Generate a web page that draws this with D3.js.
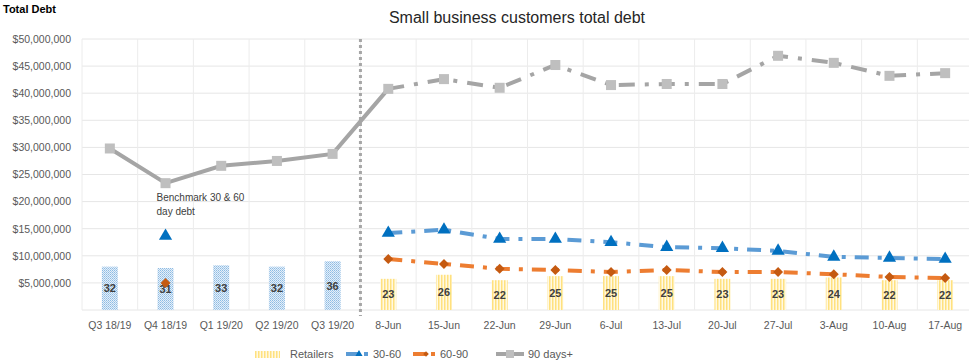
<!DOCTYPE html>
<html>
<head>
<meta charset="utf-8">
<script src="https://cdn.jsdelivr.net/npm/d3@7"></script>
<style>
  body { margin: 0; background: #fff; }
  text { font-family: "Liberation Sans", Arial, sans-serif; }
</style>
</head>
<body>
<svg id="chart" width="969" height="364"></svg>
<script>
// ---- data ----
const categories = ["Q3 18/19", "Q4 18/19", "Q1 19/20", "Q2 19/20", "Q3 19/20",
    "8-Jun", "15-Jun", "22-Jun", "29-Jun", "6-Jul", "13-Jul", "20-Jul", "27-Jul", "3-Aug", "10-Aug", "17-Aug"];
const retailers = [32, 31, 33, 32, 36, 23, 26, 22, 25, 25, 25, 23, 23, 24, 22, 22];
const debt30to60 = [null, 13650000, null, null, null, 14200000, 14800000, 13100000, 13100000, 12500000,
    11600000, 11400000, 10900000, 9800000, 9600000, 9400000];
const debt60to90 = [null, 5000000, null, null, null, 9400000, 8500000, 7600000, 7400000, 7000000,
    7400000, 7000000, 7000000, 6600000, 6100000, 5900000];
const debt90plus = [29800000, 23400000, 26600000, 27500000, 28800000, 40800000, 42600000, 41000000,
    45200000, 41500000, 41700000, 41700000, 46900000, 45600000, 43200000, 43700000];
const yTicks = d3.range(5000000, 50000001, 5000000);
const quarterCount = 5;

const margin = { top: 39, left: 82 };
const plotW = 891, plotH = 271;

const svg = d3.select("#chart");
const defs = svg.append("defs");

// bar fill patterns
const pBlue = defs.append("pattern").attr("id", "dotBlue")
    .attr("width", 2).attr("height", 2).attr("patternUnits", "userSpaceOnUse");
pBlue.append("rect").attr("width", 2).attr("height", 2).attr("fill", "#e4eff9");
pBlue.append("rect").attr("width", 1).attr("height", 1).attr("fill", "#8dbbe3");
pBlue.append("rect").attr("x", 1).attr("y", 1).attr("width", 1).attr("height", 1).attr("fill", "#a9cbea");

const pYellow = defs.append("pattern").attr("id", "lineYellow")
    .attr("width", 3).attr("height", 2).attr("patternUnits", "userSpaceOnUse");
pYellow.append("rect").attr("width", 3).attr("height", 2).attr("fill", "#fff9e3");
pYellow.append("rect").attr("width", 1.5).attr("height", 2).attr("fill", "#ffe17f");

const x = d3.scaleBand().domain(categories).range([margin.left, margin.left + plotW]).padding(0);
const y = d3.scaleLinear().domain([0, 50000000]).range([margin.top + plotH, margin.top]);
const y2 = d3.scaleLinear().domain([0, 200]).range([margin.top + plotH, margin.top]);
const cx = d => x(d) + x.bandwidth() / 2;

// gridlines
const grid = svg.append("g");
grid.selectAll("line.h").data([0, ...yTicks]).join("line")
    .attr("x1", margin.left).attr("x2", margin.left + plotW)
    .attr("y1", d => y(d)).attr("y2", d => y(d))
    .attr("stroke", "#e6e6e6").attr("stroke-width", 1);
grid.selectAll("line.v").data(d3.range(categories.length + 1)).join("line")
    .attr("x1", i => margin.left + i * x.bandwidth()).attr("x2", i => margin.left + i * x.bandwidth())
    .attr("y1", margin.top).attr("y2", margin.top + plotH)
    .attr("stroke", "#ececec").attr("stroke-width", 1);

// y axis
const yAxis = svg.append("g")
    .attr("transform", `translate(${margin.left - 8},0)`)
    .call(d3.axisLeft(y).tickValues(yTicks).tickSize(0).tickFormat(d3.format("$,.0f")));
yAxis.select(".domain").remove();
yAxis.selectAll("text").attr("fill", "#595959").style("font-size", "10.5px");

// x axis
const xAxis = svg.append("g")
    .attr("transform", `translate(0,${margin.top + plotH + 9})`)
    .call(d3.axisBottom(x).tickSize(0));
xAxis.select(".domain").remove();
xAxis.selectAll("text").attr("fill", "#595959").style("font-size", "10.5px");

// bars (secondary scale)
const barW = 16;
svg.append("g").selectAll("rect").data(retailers).join("rect")
    .attr("x", (d, i) => cx(categories[i]) - barW / 2)
    .attr("y", d => y2(d))
    .attr("width", barW)
    .attr("height", d => y2(0) - y2(d))
    .attr("fill", (d, i) => i < quarterCount ? "url(#dotBlue)" : "url(#lineYellow)");

svg.append("g").selectAll("text").data(retailers).join("text")
    .attr("x", (d, i) => cx(categories[i]))
    .attr("y", d => (y2(d) + y2(0)) / 2 + 4)
    .attr("text-anchor", "middle")
    .attr("font-weight", "bold")
    .attr("fill", "#404040")
    .style("font-size", "11px")
    .text(d => d);

// separator
const sepX = margin.left + quarterCount * x.bandwidth();
svg.append("line")
    .attr("x1", sepX).attr("x2", sepX)
    .attr("y1", margin.top).attr("y2", margin.top + plotH + 6)
    .attr("stroke", "#a6a6a6").attr("stroke-width", 3).attr("stroke-dasharray", "3,3");

// lines
const pts = arr => arr.map((v, i) => ({ c: categories[i], v: v, i: i })).filter(p => p.v != null);
const line = d3.line().x(p => cx(p.c)).y(p => y(p.v));

const p90 = pts(debt90plus);
svg.append("path").datum(p90.filter(p => p.i <= quarterCount))
    .attr("d", line).attr("fill", "none").attr("stroke", "#a5a5a5").attr("stroke-width", 4);
svg.append("path").datum(p90.filter(p => p.i >= quarterCount))
    .attr("d", line).attr("fill", "none").attr("stroke", "#a5a5a5").attr("stroke-width", 4)
    .attr("stroke-dasharray", "16,10,4,10");

const p3060 = pts(debt30to60).filter(p => p.i >= quarterCount);
svg.append("path").datum(p3060)
    .attr("d", line).attr("fill", "none").attr("stroke", "#5b9bd5").attr("stroke-width", 4)
    .attr("stroke-dasharray", "14,9,4,9");
const p6090 = pts(debt60to90).filter(p => p.i >= quarterCount);
svg.append("path").datum(p6090)
    .attr("d", line).attr("fill", "none").attr("stroke", "#ed7d31").attr("stroke-width", 4)
    .attr("stroke-dasharray", "14,9,4,9");

// markers
svg.append("g").selectAll("rect").data(p90).join("rect")
    .attr("x", p => cx(p.c) - 5).attr("y", p => y(p.v) - 5)
    .attr("width", 10).attr("height", 10).attr("fill", "#bfbfbf");
svg.append("g").selectAll("path").data(pts(debt30to60)).join("path")
    .attr("transform", p => `translate(${cx(p.c)},${y(p.v)})`)
    .attr("d", d3.symbol(d3.symbolTriangle, 75))
    .attr("fill", "#0070c0");
svg.append("g").selectAll("path").data(pts(debt60to90)).join("path")
    .attr("transform", p => `translate(${cx(p.c)},${y(p.v)}) rotate(45)`)
    .attr("d", d3.symbol(d3.symbolSquare, 50))
    .attr("fill", "#c55a11");

// annotation
const note = svg.append("text").attr("fill", "#404040").style("font-size", "10px")
    .attr("x", cx(categories[1]) - 9).attr("y", 201);
note.append("tspan").text("Benchmark 30 & 60");
note.append("tspan").attr("x", cx(categories[1]) - 9).attr("dy", 14).text("day debt");

// titles
svg.append("text").attr("x", 3).attr("y", 13)
    .attr("font-weight", "bold").attr("fill", "#000").style("font-size", "11px").text("Total Debt");
svg.append("text").attr("x", 517).attr("y", 23).attr("text-anchor", "middle")
    .attr("fill", "#262626").style("font-size", "16px").text("Small business customers total debt");

// legend
const lg = svg.append("g").attr("transform", "translate(0,354)");
lg.append("rect").attr("x", 255).attr("y", -3).attr("width", 25).attr("height", 7).attr("fill", "url(#lineYellow)");
lg.append("text").attr("x", 290).attr("y", 4).attr("fill", "#595959").style("font-size", "11px").text("Retailers");

lg.append("line").attr("x1", 346).attr("x2", 358).attr("y1", 0).attr("y2", 0).attr("stroke", "#5b9bd5").attr("stroke-width", 4);
lg.append("path").attr("transform", "translate(359,0)").attr("d", d3.symbol(d3.symbolTriangle, 22)).attr("fill", "#0070c0");
lg.append("rect").attr("x", 364).attr("y", -2).attr("width", 4).attr("height", 4).attr("fill", "#5b9bd5");
lg.append("text").attr("x", 373).attr("y", 4).attr("fill", "#595959").style("font-size", "11px").text("30-60");

lg.append("line").attr("x1", 413).attr("x2", 425).attr("y1", 0).attr("y2", 0).attr("stroke", "#ed7d31").attr("stroke-width", 4);
lg.append("path").attr("transform", "translate(426,0) rotate(45)").attr("d", d3.symbol(d3.symbolSquare, 16)).attr("fill", "#c55a11");
lg.append("rect").attr("x", 431).attr("y", -2).attr("width", 4).attr("height", 4).attr("fill", "#ed7d31");
lg.append("text").attr("x", 440).attr("y", 4).attr("fill", "#595959").style("font-size", "11px").text("60-90");

lg.append("line").attr("x1", 496).attr("x2", 524).attr("y1", 0).attr("y2", 0).attr("stroke", "#a5a5a5").attr("stroke-width", 4);
lg.append("rect").attr("x", 506).attr("y", -4).attr("width", 8).attr("height", 8).attr("fill", "#bfbfbf");
lg.append("text").attr("x", 528).attr("y", 4).attr("fill", "#595959").style("font-size", "11px").text("90 days+");
</script>
</body>
</html>
